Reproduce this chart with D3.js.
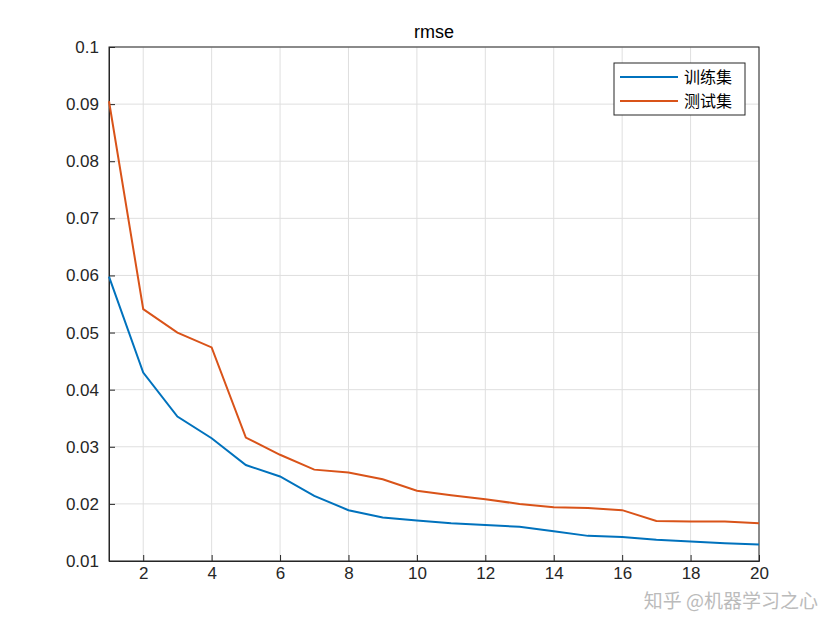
<!DOCTYPE html>
<html><head><meta charset="utf-8">
<script src="https://cdn.jsdelivr.net/npm/d3@7"></script>
<style>body{margin:0;background:#fff}</style></head>
<body><svg id="c" width="840" height="630"></svg>
<script>
const xs = d3.range(1,21);
const train = [0.0598,0.0430,0.0353,0.0315,0.0268,0.0248,0.0214,0.0189,0.0176,0.0171,0.0166,0.0163,0.0160,0.0152,0.0144,0.0142,0.0137,0.0134,0.0131,0.0129];
const test = [0.0905,0.0541,0.0500,0.0474,0.0316,0.0286,0.0260,0.0255,0.0243,0.0223,0.0215,0.0208,0.0200,0.0194,0.0193,0.0189,0.0170,0.0169,0.0169,0.0166];
const xTicks = [2,4,6,8,10,12,14,16,18,20];
const yTicks = [0.01,0.02,0.03,0.04,0.05,0.06,0.07,0.08,0.09,0.1];
const names = ["训练集","测试集"], colors = ["#0072BD","#D95319"];
const svg = d3.select("#c");
const L=109,R=759,T=47,B=561;
const x = d3.scaleLinear().domain([1,20]).range([L,R]);
const y = d3.scaleLinear().domain([0.01,0.1]).range([B,T]);
const f="Arial, 'Liberation Sans', sans-serif";
const g=svg.append("g");
xTicks.forEach(t=>g.append("line").attr("x1",x(t)).attr("x2",x(t)).attr("y1",T).attr("y2",B).attr("stroke","#dfdfdf"));
yTicks.forEach(t=>g.append("line").attr("y1",y(t)).attr("y2",y(t)).attr("x1",L).attr("x2",R).attr("stroke","#dfdfdf"));
svg.append("g").attr("transform",`translate(0,${B})`).call(d3.axisBottom(x).tickValues(xTicks).tickSize(-6).tickPadding(6))
 .call(a=>{a.selectAll("text").attr("font-size",17).attr("font-family",f).attr("fill","#262626");a.select(".domain").attr("stroke","#262626");a.selectAll("line").attr("stroke","#262626");});
svg.append("g").attr("transform",`translate(${L},0)`).call(d3.axisLeft(y).tickValues(yTicks).tickFormat(d=>d3.format("")(+d.toFixed(2))).tickSize(-6).tickPadding(10))
 .call(a=>{a.selectAll("text").attr("font-size",17).attr("font-family",f).attr("fill","#262626");a.select(".domain").attr("stroke","#262626");a.selectAll("line").attr("stroke","#262626");});
svg.append("rect").attr("x",L).attr("y",T).attr("width",R-L).attr("height",B-T).attr("fill","none").attr("stroke","#262626");
const line=d3.line().x((d,i)=>x(xs[i])).y(d=>y(d));
[train,test].forEach((s,i)=>svg.append("path").attr("d",line(s)).attr("fill","none").attr("stroke",colors[i]).attr("stroke-width",2));
svg.append("text").attr("x",(L+R)/2).attr("y",38).attr("text-anchor","middle").attr("font-size",18).attr("font-family",f).attr("fill","#000").text("rmse");
const lg=svg.append("g");
lg.append("rect").attr("x",614).attr("y",63).attr("width",131).attr("height",52).attr("fill","#fff").attr("stroke","#262626");
names.forEach((n,i)=>{const yy=77+i*24;
 lg.append("line").attr("x1",620).attr("x2",678).attr("y1",yy).attr("y2",yy).attr("stroke",colors[i]).attr("stroke-width",2);
 lg.append("text").attr("x",684).attr("y",yy+6).attr("font-size",16).attr("font-family","'Noto Sans CJK SC'").attr("fill","#000").text(n);});
svg.append("text").attr("x",818).attr("y",608).attr("text-anchor","end").attr("font-size",19).attr("font-family","'Noto Sans CJK SC'").attr("fill","#bbb").text("知乎 @机器学习之心");
</script></body></html>
